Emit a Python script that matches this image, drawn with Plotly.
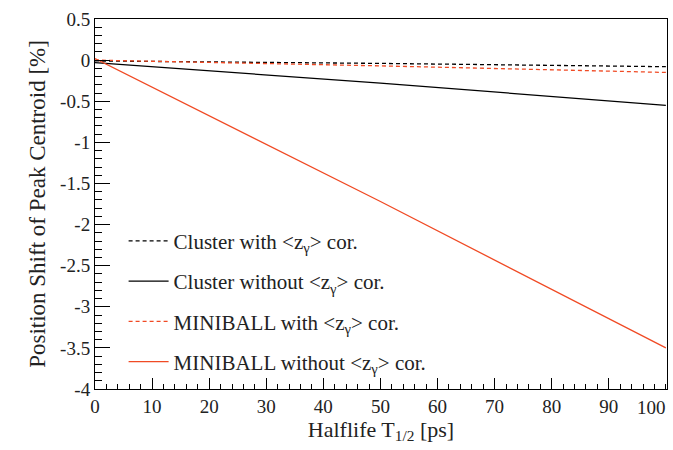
import plotly.graph_objects as go

halflife = [0, 50, 100]
cluster_with = [-0.01, -0.04, -0.08]
cluster_without = [-0.03, -0.28, -0.55]
miniball_with = [0.0, -0.07, -0.15]
miniball_without = [0.02, -1.72, -3.5]

names = ["Cluster with &lt;z<sub>γ</sub>&gt; cor.",
         "Cluster without &lt;z<sub>γ</sub>&gt; cor.",
         "MINIBALL with &lt;z<sub>γ</sub>&gt; cor.",
         "MINIBALL without &lt;z<sub>γ</sub>&gt; cor."]

xtick_vals = [0, 10, 20, 30, 40, 50, 60, 70, 80, 90, 100]
xtick_text = ["0", "10", "20", "30", "40", "50", "60", "70", "80", "90", "100"]
ytick_vals = [0.5, 0, -0.5, -1, -1.5, -2, -2.5, -3, -3.5, -4]
ytick_text = ["0.5", "0", "-0.5", "-1", "-1.5", "-2", "-2.5", "-3", "-3.5", "-4"]

RED = "#f04a24"
FONT = "'Liberation Serif', 'DejaVu Serif', serif"
FT = dict(family=FONT, size=19, color="#222222")
FTX = dict(family=FONT, size=22, color="#222222")
FTY = dict(family=FONT, size=23, color="#222222")

fig = go.Figure()
series = [cluster_with, cluster_without, miniball_with, miniball_without]
styles = [("black", "4px,3px"), ("black", "solid"), (RED, "4px,3px"), (RED, "solid")]
for i, (ys, (c, d)) in enumerate(zip(series, styles)):
    fig.add_trace(go.Scatter(x=halflife, y=ys, mode="lines", name=names[i],
                             line=dict(color=c, dash=d, width=1.3),
                             legendgroup=str(i)))

# last x tick label drawn shifted left, as in the reference
fig.add_annotation(x=xtick_vals[-1], y=0, xref="x", yref="paper", yanchor="top",
                   xanchor="right", text=xtick_text[-1], showarrow=False,
                   yshift=-6, xshift=2, font=FT)

fig.update_layout(
    width=673, height=450,
    margin=dict(l=95, r=6, t=19, b=61),
    plot_bgcolor="white", paper_bgcolor="white",
    font=FT,
    showlegend=True,
    legend=dict(x=0.05, y=0.455, xanchor="left", yanchor="top",
                bgcolor="rgba(0,0,0,0)", tracegroupgap=10, itemwidth=40,
                font=dict(family=FONT, size=21, color="#222222")),
    xaxis=dict(range=[0, 100.2], tickmode="array", tickvals=xtick_vals[:-1],
               ticktext=xtick_text[:-1], ticks="inside", ticklen=11, tickcolor="black",
               tickfont=FT,
               showline=True, linecolor="black", linewidth=1, mirror=True,
               showgrid=False, zeroline=False,
               minor=dict(tickvals=list(range(0, 101, 2)), ticks="inside",
                          ticklen=5, tickcolor="black"),
               title=dict(text="Halflife T<sub>1/2</sub> [ps]", standoff=4, font=FTX)),
    yaxis=dict(range=[-4, 0.5], tickmode="array", tickvals=ytick_vals,
               ticktext=ytick_text, ticks="inside", ticklen=15, tickcolor="black",
               tickfont=FT,
               showline=True, linecolor="black", linewidth=1, mirror=True,
               showgrid=False, zeroline=False,
               minor=dict(dtick=0.1, ticks="inside", ticklen=7, tickcolor="black"),
               title=dict(text="Position Shift of Peak Centroid [%]", standoff=8, font=FTY)),
)

fig.write_html("out.html")
